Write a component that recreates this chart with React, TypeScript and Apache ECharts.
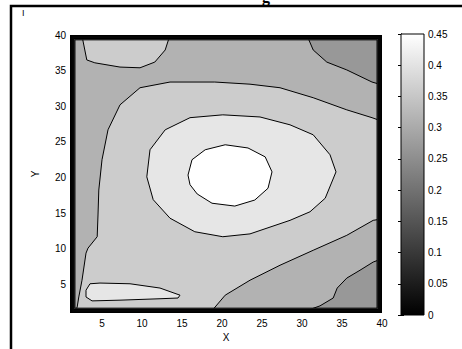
import React, { useEffect, useRef } from "react";
import * as echarts from "echarts";

// ---- axes ----
const xRange = [1, 40];
const yRange = [1, 40];
const xTicks = [5, 10, 15, 20, 25, 30, 35, 40];
const yTicks = [5, 10, 15, 20, 25, 30, 35, 40];
const cRange = [0, 0.45];
const cTickStep = 0.05;

// ---- contour regions (outline in data coordinates, level = lower contour value) ----
const fullArea = [[1, 1], [40, 1], [40, 40], [1, 40]];
const topRightCorner = [[30.6, 40], [31.4, 37.9], [33.1, 36.2], [35.6, 35.1], [38.75, 33.4], [40, 33.0], [40, 40]];
const bottomRightCorner = [[29.75, 1], [32.25, 2.0], [33.9, 3.1], [34.4, 4.5], [35.6, 5.9], [37.25, 7.0], [38.9, 8.15], [40, 8.6], [40, 1]];
const mainArea = [
  [1.6, 1], [1.9, 1.85], [2.1, 3.25], [2.5, 5.6], [3.0, 9.4], [3.25, 10.1], [4.4, 11.7], [4.5, 14.75],
  [4.6, 18.25], [5.0, 22.5], [5.75, 26.7], [7.25, 30.2], [9.75, 32.6], [13.5, 33.4], [19.1, 33.4],
  [23.5, 33.1], [27.25, 32.6], [31.4, 31.2], [35.6, 29.5], [38.75, 28.4], [40, 27.9], [40, 14.2],
  [38.9, 14.0], [35.6, 11.9], [31.4, 9.8], [27.25, 7.7], [23.5, 5.6], [20.4, 3.5], [18.5, 1],
];
const topLeftPocket = [[2.6, 40], [2.6, 39.3], [3.1, 36.5], [4.1, 36.1], [7.25, 35.5], [9.75, 35.4], [11.6, 36.2], [12.9, 37.9], [13.5, 40]];
const ringArea = [
  [10.6, 20.1], [11.0, 23.9], [12.9, 26.7], [16.0, 28.4], [20.1, 28.8], [24.75, 28.5], [28.5, 27.4],
  [31.4, 26.0], [33.5, 23.2], [34.25, 20.8], [32.9, 17.1], [31.0, 15.2], [28.5, 14.0], [23.5, 12.1],
  [20.1, 11.7], [16.6, 12.4], [13.5, 14.3], [11.4, 16.9],
];
const bottomLeftPocket = [
  [3.0, 4.2], [3.5, 5.1], [4.75, 5.2], [8.5, 5.1], [12.25, 4.5], [14.75, 3.5], [14.5, 3.1],
  [12.25, 3.0], [7.25, 2.8], [3.75, 2.7], [3.0, 3.25],
];
const peakArea = [
  [15.75, 20.35], [16.25, 22.5], [17.9, 23.9], [20.4, 24.6], [23.25, 24.15], [25.4, 22.9], [26.25, 20.8],
  [25.75, 18.5], [24.1, 16.85], [21.6, 16.0], [18.75, 16.4], [16.9, 17.7], [16.0, 19.0],
];

const regions = [
  { level: 0.3, pts: fullArea },
  { level: 0.25, pts: topRightCorner },
  { level: 0.25, pts: bottomRightCorner },
  { level: 0.35, pts: mainArea },
  { level: 0.35, pts: topLeftPocket },
  { level: 0.4, pts: ringArea },
  { level: 0.4, pts: bottomLeftPocket },
  { level: 0.45, pts: peakArea },
];

// steep boundary layer: contour levels hugging the frame
const frameLevels = [0, 0.05, 0.1, 0.15, 0.2];
const frameInsetX = [0, 0.12, 0.24, 0.36, 0.48, 0.62];
const frameInsetY = [0, 0.13, 0.26, 0.39, 0.52, 0.68];

// fill shades used for the filled contour bands (style)
const bandShade: Record<string, number> = { "0.45": 255, "0.4": 230, "0.35": 204, "0.3": 178, "0.25": 152 };

function grayOf(level: number) {
  const g = Math.round(255 * Math.max(0, Math.min(1, (level - cRange[0]) / (cRange[1] - cRange[0]))));
  return `rgb(${g},${g},${g})`;
}
function bandFill(level: number) {
  const g = bandShade[String(level)];
  return g === undefined ? grayOf(level) : `rgb(${g},${g},${g})`;
}

function rectPts(dx: number, dy: number) {
  return [
    [xRange[0] + dx, yRange[0] + dy],
    [xRange[1] - dx, yRange[0] + dy],
    [xRange[1] - dx, yRange[1] - dy],
    [xRange[0] + dx, yRange[1] - dy],
  ];
}

const FONT = '"Liberation Sans", Arial, Helvetica, sans-serif';

export default function App() {
  const ref = useRef<HTMLDivElement>(null);
  useEffect(() => {
    if (!ref.current) return;
    const chart = echarts.init(ref.current, null, { renderer: "svg" });

    const option: any = {
      animation: false,
      backgroundColor: "#fff",
      textStyle: { fontFamily: FONT },
      grid: [
        { left: 70, top: 35, width: 312, height: 278 },
        { left: 401, top: 34, width: 23, height: 281 },
      ],
      xAxis: [
        {
          gridIndex: 0, type: "value", min: xRange[0], max: xRange[1],
          axisLine: { show: false }, splitLine: { show: false },
          axisTick: { show: false },
          axisLabel: { customValues: xTicks, color: "#000", fontSize: 10, fontFamily: FONT, margin: 5 },
          name: "X", nameLocation: "middle", nameGap: 17,
          nameTextStyle: { color: "#000", fontSize: 10, fontFamily: FONT },
        },
        { gridIndex: 1, type: "value", min: 0, max: 1, show: false },
      ],
      yAxis: [
        {
          gridIndex: 0, type: "value", min: yRange[0], max: yRange[1],
          axisLine: { show: false }, splitLine: { show: false },
          axisTick: { show: false },
          axisLabel: { customValues: yTicks, color: "#000", fontSize: 10, fontFamily: FONT, margin: 4 },
          name: "Y", nameLocation: "middle", nameGap: 30, nameRotate: 90,
          nameTextStyle: { color: "#000", fontSize: 10, fontFamily: FONT },
        },
        {
          gridIndex: 1, type: "value", min: cRange[0], max: cRange[1], interval: cTickStep, position: "right",
          axisLine: { show: true, lineStyle: { color: "#000", width: 1 } },
          splitLine: { show: false },
          axisTick: { show: true, inside: true, length: 3, lineStyle: { color: "#000" } },
          axisLabel: {
            color: "#000", fontSize: 10, fontFamily: FONT, margin: 4,
            formatter: (v: number) => String(+v.toFixed(2)),
          },
        },
        {
          gridIndex: 1, type: "value", min: cRange[0], max: cRange[1], interval: cTickStep, position: "left",
          axisLine: { show: true, lineStyle: { color: "#000", width: 1 } },
          splitLine: { show: false },
          axisTick: { show: true, inside: true, length: 3, lineStyle: { color: "#000" } },
          axisLabel: { show: false },
        },
      ],
      series: [
        {
          type: "custom", xAxisIndex: 0, yAxisIndex: 0, clip: true,
          data: regions.map((_, i) => [i]),
          renderItem: (params: any, api: any) => {
            const r = regions[params.dataIndex];
            return {
              type: "polygon",
              shape: { points: r.pts.map((p) => api.coord(p)) },
              style: { fill: bandFill(r.level), stroke: "#000", lineWidth: 1 },
            };
          },
        },
        {
          type: "custom", xAxisIndex: 0, yAxisIndex: 0, clip: true,
          data: frameLevels.map((_, i) => [i]),
          renderItem: (params: any, api: any) => {
            const i = params.dataIndex;
            const outer = rectPts(frameInsetX[i], frameInsetY[i]).map((p) => api.coord(p));
            const inner = rectPts(frameInsetX[i + 1], frameInsetY[i + 1]).map((p) => api.coord(p));
            const ring = [...outer, outer[0], inner[0], ...inner.slice().reverse(), inner[0], outer[0]];
            return {
              type: "group",
              children: [
                { type: "polygon", shape: { points: ring }, style: { fill: grayOf(frameLevels[i]), stroke: null } },
                { type: "polygon", shape: { points: outer }, style: { fill: null, stroke: "#000", lineWidth: 1.2 } },
                { type: "polygon", shape: { points: inner }, style: { fill: null, stroke: "#000", lineWidth: 1 } },
              ],
            };
          },
        },
        {
          type: "custom", xAxisIndex: 1, yAxisIndex: 1, clip: false,
          data: [[0, cRange[1]]],
          renderItem: (params: any, api: any) => {
            const tl = api.coord([0, cRange[1]]);
            const br = api.coord([1, cRange[0]]);
            return {
              type: "rect",
              shape: { x: tl[0], y: tl[1], width: br[0] - tl[0], height: br[1] - tl[1] },
              style: {
                fill: new echarts.graphic.LinearGradient(0, 0, 0, 1, [
                  { offset: 0, color: grayOf(cRange[1]) },
                  { offset: 1, color: grayOf(cRange[0]) },
                ]),
                stroke: "#000", lineWidth: 1,
              },
            };
          },
        },
      ],
      graphic: [
        { type: "rect", shape: { x: 11, y: 6, width: 470, height: 360 }, style: { fill: "none", stroke: "#000", lineWidth: 2.5 }, z: 10 },
        { type: "text", x: 22, y: 8, style: { text: "I", font: `9px ${FONT}`, fill: "#000" } },
        { type: "text", x: 266, y: 4, style: { text: "g", font: 'bold 16px "Liberation Serif", "Times New Roman", serif', fill: "#000", align: "center", verticalAlign: "bottom" } },
      ],
    };
    chart.setOption(option);
    return () => chart.dispose();
  }, []);
  return <div ref={ref} style={{ position: "fixed", left: 0, top: 0, width: 462, height: 349 }} />;
}
